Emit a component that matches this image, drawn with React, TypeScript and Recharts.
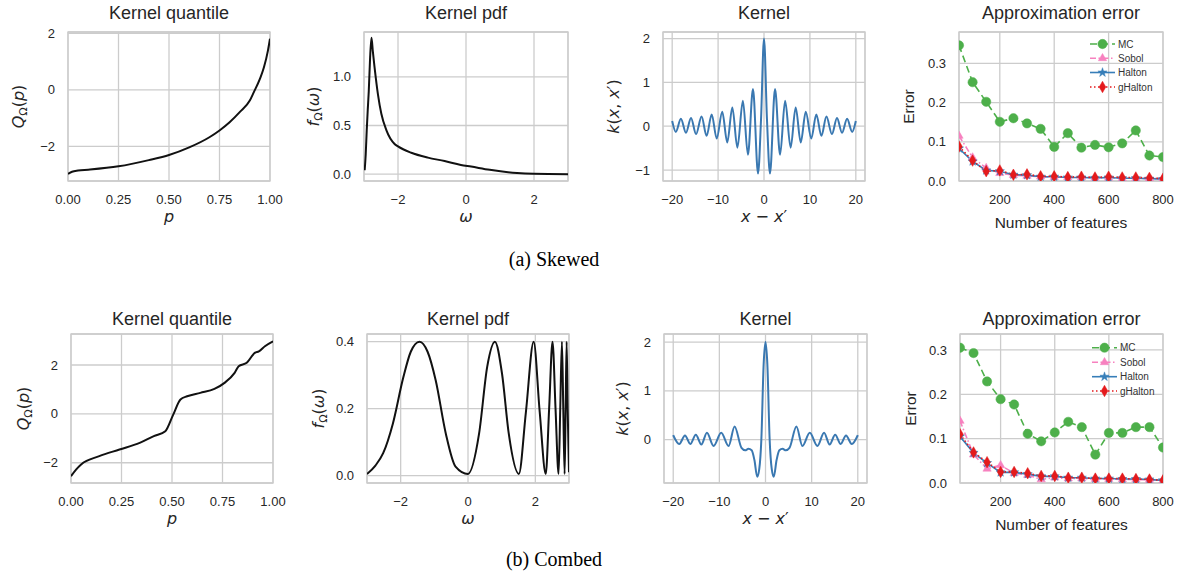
import React from "react";
import { LineChart, Line, XAxis, YAxis, CartesianGrid, ReferenceArea, Symbols } from "recharts";

const FONT = '"Liberation Sans", Arial, Helvetica, sans-serif';
const MATH = '"DejaVu Sans", sans-serif';
const SERIF = '"Liberation Serif", "Times New Roman", serif';
const TXT = "#262626";
const GRID = "#cccccc";

// ---------- (a) Skewed ----------
const skewedQuantileP = [0, 0.02, 0.05, 0.1, 0.25, 0.4, 0.5, 0.6, 0.7, 0.75, 0.8, 0.85, 0.9, 0.92, 0.95, 0.97, 0.99, 1.0];
const skewedQuantileQ = [-2.98, -2.9, -2.86, -2.83, -2.71, -2.49, -2.31, -2.04, -1.68, -1.44, -1.15, -0.79, -0.38, -0.08, 0.39, 0.8, 1.4, 1.81];

const skewedPdfW = [-2.98, -2.95, -2.92, -2.89, -2.86, -2.82, -2.78, -2.74, -2.69, -2.59, -2.49, -2.34, -2.1, -2.0, -1.61, -1.12, -0.63, -0.15, 0.15, 0.7, 1.5, 2.0, 3.0];
const skewedPdfF = [0.04, 0.2, 0.45, 0.66, 0.85, 1.2, 1.4, 1.26, 1.1, 0.82, 0.62, 0.45, 0.31, 0.285, 0.22, 0.17, 0.135, 0.095, 0.078, 0.045, 0.012, 0.004, 0.0];

const skewedKernelX = [-20, -19.2, -18.1, -17.0, -15.9, -14.8, -13.6, -12.5, -11.4, -10.3, -9.1, -8.0, -6.9, -5.8, -4.6, -3.5, -2.4, -1.3, -0.65, 0, 0.65, 1.3, 2.4, 3.5, 4.6, 5.8, 6.9, 8.0, 9.1, 10.3, 11.4, 12.5, 13.6, 14.8, 15.9, 17.0, 18.1, 19.2, 20];
const skewedKernelK = [0.12, -0.13, 0.17, -0.15, 0.19, -0.18, 0.22, -0.22, 0.27, -0.28, 0.33, -0.37, 0.43, -0.49, 0.58, -0.65, 0.85, -1.08, 0.15, 2.0, 0.15, -1.08, 0.85, -0.65, 0.58, -0.49, 0.43, -0.37, 0.33, -0.28, 0.27, -0.22, 0.22, -0.18, 0.19, -0.15, 0.17, -0.13, 0.12];

const features = [50, 100, 150, 200, 250, 300, 350, 400, 450, 500, 550, 600, 650, 700, 750, 800];
const skewedMC = [0.346, 0.252, 0.202, 0.151, 0.16, 0.147, 0.133, 0.087, 0.122, 0.085, 0.092, 0.086, 0.096, 0.129, 0.065, 0.061];
const skewedSobol = [0.115, 0.06, 0.033, 0.02, 0.015, 0.013, 0.011, 0.01, 0.009, 0.009, 0.008, 0.008, 0.007, 0.007, 0.006, 0.006];
const skewedHalton = [0.083, 0.05, 0.027, 0.025, 0.016, 0.015, 0.011, 0.011, 0.009, 0.009, 0.008, 0.009, 0.007, 0.007, 0.006, 0.005];
const skewedGHalton = [0.088, 0.052, 0.025, 0.027, 0.016, 0.017, 0.012, 0.012, 0.01, 0.011, 0.009, 0.011, 0.009, 0.009, 0.008, 0.006];

// ---------- (b) Combed ----------
const combedQuantileP = [0, 0.025, 0.05, 0.14, 0.24, 0.34, 0.41, 0.467, 0.505, 0.542, 0.575, 0.64, 0.71, 0.76, 0.81, 0.83, 0.87, 0.91, 0.93, 0.96, 1.0];
const combedQuantileQ = [-2.55, -2.28, -2.07, -1.73, -1.46, -1.19, -0.91, -0.71, -0.05, 0.59, 0.72, 0.86, 1.02, 1.27, 1.68, 1.95, 2.09, 2.5, 2.56, 2.77, 2.97];

const combedPdfW = [-3.0, -2.75, -2.52, -2.23, -1.93, -1.7, -1.44, -1.2, -0.96, -0.66, -0.37, 0.0, 0.33, 0.57, 0.8, 1.01, 1.21, 1.51, 1.72, 1.95, 2.13, 2.31, 2.41, 2.51, 2.6, 2.69, 2.74, 2.79, 2.83, 2.87, 2.9, 2.93, 2.96, 3.0];
const combedPdfF = [0.005, 0.03, 0.067, 0.156, 0.29, 0.37, 0.4, 0.37, 0.285, 0.126, 0.027, 0.005, 0.126, 0.325, 0.4, 0.305, 0.126, 0.005, 0.19, 0.4, 0.19, 0.005, 0.2, 0.4, 0.2, 0.005, 0.2, 0.4, 0.2, 0.005, 0.2, 0.4, 0.2, 0.01];

const combedKernelX = [-20, -18.7, -17.45, -16.3, -15.1, -13.9, -12.7, -11.25, -9.6, -8.0, -6.7, -5.2, -4.4, -3.7, -3.0, -2.4, -1.8, -1.35, -0.9, -0.4, 0, 0.4, 0.9, 1.35, 1.8, 2.4, 3.0, 3.7, 4.4, 5.2, 6.7, 8.0, 9.6, 11.25, 12.7, 13.9, 15.1, 16.3, 17.45, 18.7, 20];
const combedKernelK = [0.09, -0.09, 0.085, -0.09, 0.1, -0.1, 0.14, -0.13, 0.14, -0.13, 0.27, -0.17, -0.22, -0.19, -0.22, -0.42, -0.76, -0.6, 0.0, 1.55, 2.0, 1.55, 0.0, -0.6, -0.76, -0.42, -0.22, -0.19, -0.22, -0.17, 0.27, -0.13, 0.14, -0.13, 0.14, -0.1, 0.1, -0.09, 0.085, -0.09, 0.09];

const combedMC = [0.305, 0.293, 0.229, 0.189, 0.177, 0.111, 0.094, 0.114, 0.138, 0.126, 0.064, 0.113, 0.113, 0.126, 0.126, 0.08];
const combedSobol = [0.14, 0.064, 0.032, 0.04, 0.022, 0.018, 0.008, 0.012, 0.01, 0.01, 0.009, 0.009, 0.008, 0.008, 0.007, 0.006];
const combedHalton = [0.105, 0.068, 0.045, 0.024, 0.024, 0.02, 0.015, 0.015, 0.012, 0.012, 0.01, 0.01, 0.009, 0.009, 0.008, 0.006];
const combedGHalton = [0.11, 0.069, 0.047, 0.025, 0.025, 0.022, 0.016, 0.016, 0.012, 0.012, 0.01, 0.01, 0.01, 0.009, 0.008, 0.006];

const legendNames = ["MC", "Sobol", "Halton", "gHalton"];

// ---------- helpers ----------
const zip = (xs: number[], ys: number[]) => xs.map((x, i) => ({ x, y: ys[i] }));
const errRows = (mc: number[], so: number[], ha: number[], gh: number[]) =>
  features.map((x, i) => ({ x, mc: mc[i], sobol: so[i], halton: ha[i], ghalton: gh[i] }));

const minus = (s: string) => s.replace("-", "\u2212");
const fmt0 = (v: number) => minus(String(v));
const fmt1 = (v: number) => minus(v.toFixed(1));
const fmt2 = (v: number) => minus(v.toFixed(2));

type SeriesStyle = { key: string; color: string; width: number; dash?: string; symbol?: any; size?: number };

const ERR_SERIES: SeriesStyle[] = [
  { key: "mc", color: "#4daf4a", width: 1.6, dash: "7 4", symbol: "circle", size: 68 },
  { key: "sobol", color: "#f781bf", width: 1.6, dash: "6 2.5 1.5 2.5", symbol: "triangle", size: 30 },
  { key: "halton", color: "#377eb8", width: 1.6, symbol: "star", size: 26 },
  { key: "ghalton", color: "#e41a1c", width: 1.6, dash: "1.5 2.5", symbol: "diamond", size: 38 },
];

const makeDot = (s: SeriesStyle) => (props: any) => {
  const { cx, cy, index } = props;
  if (cx == null || cy == null) return <g key={`d${index}`} />;
  return (
    <Symbols key={`d${index}`} type={s.symbol} size={s.size} cx={cx} cy={cy} fill={s.color} stroke={s.color} strokeWidth={0.5} />
  );
};

type Rect = { x: number; y: number; w: number; h: number };
const L = 70;
const T = 10;
const R = 26;
const B = 40;

type PanelProps = {
  rect: Rect;
  data: any[];
  series: SeriesStyle[];
  xDomain: [number, number];
  yDomain: [number, number];
  xTicks: number[];
  yTicks: number[];
  xFmt: (v: number) => string;
  yFmt: (v: number) => string;
  markers?: boolean;
};

function Panel({ rect, data, series, xDomain, yDomain, xTicks, yTicks, xFmt, yFmt, markers }: PanelProps) {
  const tick = { fill: TXT, fontSize: 13, fontFamily: FONT };
  return (
    <div style={{ position: "absolute", left: rect.x - L, top: rect.y - T }}>
      <LineChart width={rect.w + L + R} height={rect.h + T + B} data={data} margin={{ top: T, right: R, left: 0, bottom: 0 }}>
        <CartesianGrid stroke={GRID} strokeWidth={1.3} />
        <XAxis
          type="number"
          dataKey="x"
          domain={xDomain}
          ticks={xTicks}
          interval={0}
          allowDataOverflow
          tickFormatter={xFmt}
          tickLine={false}
          axisLine={false}
          tickSize={0}
          tickMargin={14}
          height={B}
          tick={tick}
        />
        <YAxis
          type="number"
          domain={yDomain}
          ticks={yTicks}
          interval={0}
          allowDataOverflow
          tickFormatter={yFmt}
          tickLine={false}
          axisLine={false}
          tickSize={0}
          tickMargin={13}
          width={L}
          tick={tick}
        />
        <ReferenceArea
          x1={xDomain[0]}
          x2={xDomain[1]}
          y1={yDomain[0]}
          y2={yDomain[1]}
          fill="none"
          fillOpacity={0}
          stroke={GRID}
          strokeWidth={1.3}
          ifOverflow="visible"
        />
        {series.map((s) => (
          <Line
            key={s.key}
            type={markers ? "linear" : "monotone"}
            dataKey={s.key}
            stroke={s.color}
            strokeWidth={s.width}
            strokeDasharray={s.dash}
            dot={markers ? makeDot(s) : false}
            activeDot={false}
            isAnimationActive={false}
          />
        ))}
      </LineChart>
    </div>
  );
}

const BLACK: SeriesStyle[] = [{ key: "y", color: "#111111", width: 2 }];
const BLUE: SeriesStyle[] = [{ key: "y", color: "#3a78b1", width: 2 }];

const TOP = 32;
const BOT = 334;
const H = 149;

const rects = {
  p1: { x: 68, y: TOP, w: 202, h: H },
  p2: { x: 364, y: TOP, w: 204, h: H },
  p3: { x: 663, y: TOP, w: 202, h: H },
  p4: { x: 959, y: TOP, w: 204, h: H },
  p5: { x: 71, y: BOT, w: 202, h: H },
  p6: { x: 367, y: BOT, w: 202, h: H },
  p7: { x: 664, y: BOT, w: 203, h: H },
  p8: { x: 960, y: BOT, w: 203, h: H },
};

const cx = (r: Rect) => r.x + r.w / 2;
const cy = (r: Rect) => r.y + r.h / 2;

function Title({ r, text, y }: { r: Rect; text: string; y: number }) {
  return (
    <text x={cx(r)} y={y} textAnchor="middle" fontFamily={FONT} fontSize={18} fill={TXT}>
      {text}
    </text>
  );
}

function YLab({ x, y, children, font = MATH, size = 16 }: any) {
  return (
    <text transform={`translate(${x},${y}) rotate(-90)`} textAnchor="middle" fontFamily={font} fontSize={size} fill={TXT}>
      {children}
    </text>
  );
}

function XLab({ x, y, children, font = MATH, size = 16 }: any) {
  return (
    <text x={x} y={y} textAnchor="middle" fontFamily={font} fontSize={size} fill={TXT}>
      {children}
    </text>
  );
}

const QLabel = () => (
  <>
    <tspan fontStyle="italic">Q</tspan>
    <tspan fontSize={11} dy={3}>Ω</tspan>
    <tspan dy={-3}>(</tspan>
    <tspan fontStyle="italic">p</tspan>
    <tspan>)</tspan>
  </>
);
const FLabel = () => (
  <>
    <tspan fontStyle="italic">f</tspan>
    <tspan fontSize={11} dy={3}>Ω</tspan>
    <tspan dy={-3}>(</tspan>
    <tspan fontStyle="italic">ω</tspan>
    <tspan>)</tspan>
  </>
);
const KLabel = () => (
  <>
    <tspan fontStyle="italic">k</tspan>
    <tspan>(</tspan>
    <tspan fontStyle="italic">x</tspan>
    <tspan>, </tspan>
    <tspan fontStyle="italic">x</tspan>
    <tspan>′)</tspan>
  </>
);
const XXLabel = () => (
  <>
    <tspan fontStyle="italic">x</tspan>
    <tspan> − </tspan>
    <tspan fontStyle="italic">x</tspan>
    <tspan>′</tspan>
  </>
);

function LegendBox({ x, ys }: { x: number; ys: number[] }) {
  return (
    <g>
      {ERR_SERIES.map((s, i) => (
        <g key={s.key}>
          <line x1={x} x2={x + 25} y1={ys[i]} y2={ys[i]} stroke={s.color} strokeWidth={1.6} strokeDasharray={s.dash} />
          <Symbols type={s.symbol} size={s.size} cx={x + 12.5} cy={ys[i]} fill={s.color} stroke={s.color} strokeWidth={0.5} />
          <text x={x + 28} y={ys[i] + 3.5} fontFamily={FONT} fontSize={10} fill="#333333">
            {legendNames[i]}
          </text>
        </g>
      ))}
    </g>
  );
}

export default function App() {
  return (
    <div style={{ position: "absolute", left: 0, top: 0, width: 1184, height: 578, background: "#ffffff", overflow: "hidden" }}>
      <Panel rect={rects.p1} data={zip(skewedQuantileP, skewedQuantileQ)} series={BLACK} xDomain={[0, 1]} yDomain={[-3.23, 2.05]} xTicks={[0, 0.25, 0.5, 0.75, 1]} yTicks={[-2, 0, 2]} xFmt={fmt2} yFmt={fmt0} />
      <Panel rect={rects.p2} data={zip(skewedPdfW, skewedPdfF)} series={BLACK} xDomain={[-3, 3]} yDomain={[-0.07, 1.46]} xTicks={[-2, 0, 2]} yTicks={[0, 0.5, 1]} xFmt={fmt0} yFmt={fmt1} />
      <Panel rect={rects.p3} data={zip(skewedKernelX, skewedKernelK)} series={BLUE} xDomain={[-22, 22]} yDomain={[-1.25, 2.15]} xTicks={[-20, -10, 0, 10, 20]} yTicks={[-1, 0, 1, 2]} xFmt={fmt0} yFmt={fmt0} />
      <Panel rect={rects.p4} data={errRows(skewedMC, skewedSobol, skewedHalton, skewedGHalton)} series={ERR_SERIES} markers xDomain={[50, 800]} yDomain={[0, 0.38]} xTicks={[200, 400, 600, 800]} yTicks={[0, 0.1, 0.2, 0.3]} xFmt={fmt0} yFmt={fmt1} />

      <Panel rect={rects.p5} data={zip(combedQuantileP, combedQuantileQ)} series={BLACK} xDomain={[0, 1]} yDomain={[-2.83, 3.27]} xTicks={[0, 0.25, 0.5, 0.75, 1]} yTicks={[-2, 0, 2]} xFmt={fmt2} yFmt={fmt0} />
      <Panel rect={rects.p6} data={zip(combedPdfW, combedPdfF)} series={BLACK} xDomain={[-3, 3]} yDomain={[-0.022, 0.423]} xTicks={[-2, 0, 2]} yTicks={[0, 0.2, 0.4]} xFmt={fmt0} yFmt={fmt1} />
      <Panel rect={rects.p7} data={zip(combedKernelX, combedKernelK)} series={BLUE} xDomain={[-22, 22]} yDomain={[-0.89, 2.165]} xTicks={[-20, -10, 0, 10, 20]} yTicks={[0, 1, 2]} xFmt={fmt0} yFmt={fmt0} />
      <Panel rect={rects.p8} data={errRows(combedMC, combedSobol, combedHalton, combedGHalton)} series={ERR_SERIES} markers xDomain={[50, 800]} yDomain={[0, 0.336]} xTicks={[200, 400, 600, 800]} yTicks={[0, 0.1, 0.2, 0.3]} xFmt={fmt0} yFmt={fmt1} />

      <svg width={1184} height={578} style={{ position: "absolute", left: 0, top: 0, pointerEvents: "none" }}>
        <Title r={rects.p1} text="Kernel quantile" y={19} />
        <Title r={rects.p2} text="Kernel pdf" y={19} />
        <Title r={rects.p3} text="Kernel" y={19} />
        <Title r={rects.p4} text="Approximation error" y={19} />
        <Title r={rects.p5} text="Kernel quantile" y={324.5} />
        <Title r={rects.p6} text="Kernel pdf" y={324.5} />
        <Title r={rects.p7} text="Kernel" y={324.5} />
        <Title r={rects.p8} text="Approximation error" y={324.5} />

        <YLab x={24} y={cy(rects.p1)}><QLabel /></YLab>
        <YLab x={319} y={cy(rects.p2)}><FLabel /></YLab>
        <YLab x={619} y={cy(rects.p3)}><KLabel /></YLab>
        <YLab x={913.5} y={cy(rects.p4)} font={FONT} size={15.5}>Error</YLab>
        <YLab x={29} y={cy(rects.p5)}><QLabel /></YLab>
        <YLab x={324} y={cy(rects.p6)}><FLabel /></YLab>
        <YLab x={628} y={cy(rects.p7)}><KLabel /></YLab>
        <YLab x={915.5} y={cy(rects.p8)} font={FONT} size={15.5}>Error</YLab>

        <XLab x={cx(rects.p1)} y={222}><tspan fontStyle="italic">p</tspan></XLab>
        <XLab x={cx(rects.p2)} y={222}><tspan fontStyle="italic">ω</tspan></XLab>
        <XLab x={cx(rects.p3)} y={222}><XXLabel /></XLab>
        <XLab x={cx(rects.p4)} y={228} font={FONT} size={15.5}>Number of features</XLab>
        <XLab x={cx(rects.p5)} y={524}><tspan fontStyle="italic">p</tspan></XLab>
        <XLab x={cx(rects.p6)} y={524}><tspan fontStyle="italic">ω</tspan></XLab>
        <XLab x={cx(rects.p7)} y={524}><XXLabel /></XLab>
        <XLab x={cx(rects.p8)} y={530} font={FONT} size={15.5}>Number of features</XLab>

        <LegendBox x={1090} ys={[44, 58.3, 72.5, 87]} />
        <LegendBox x={1092} ys={[347.7, 362.3, 376.7, 391]} />

        <text x={554} y={266} textAnchor="middle" fontFamily={SERIF} fontSize={20} fill="#000">(a) Skewed</text>
        <text x={554} y={566} textAnchor="middle" fontFamily={SERIF} fontSize={20} fill="#000">(b) Combed</text>
      </svg>
    </div>
  );
}
